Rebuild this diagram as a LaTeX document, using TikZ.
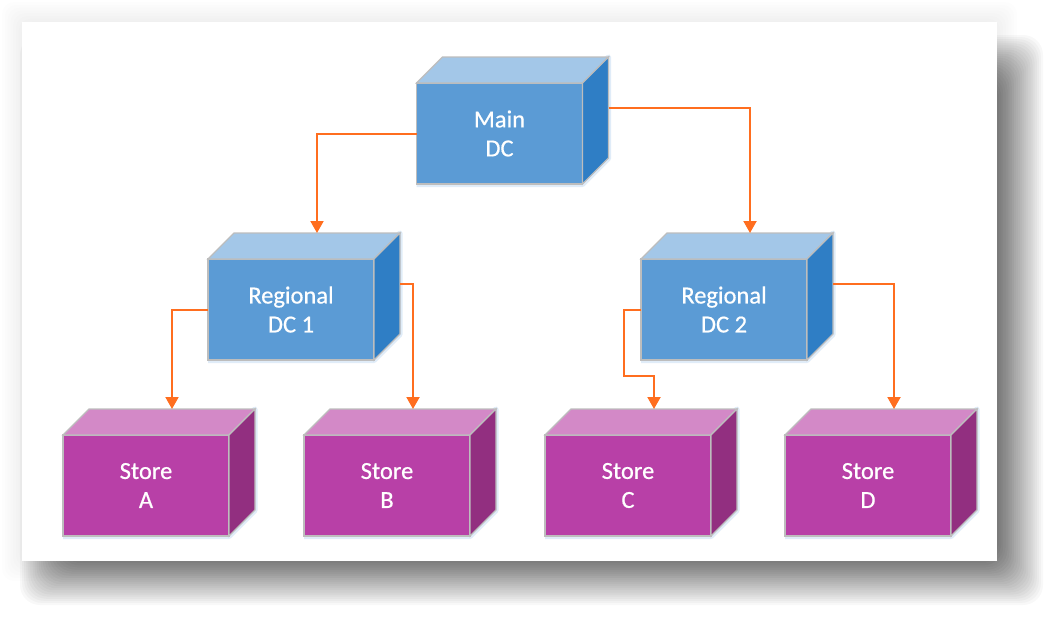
\documentclass[tikz,border=0pt]{standalone}
\usepackage{fontspec}
\setmainfont{Carlito}
\newfontfamily\labelfont{Carlito}[FakeBold=0.6]
\usetikzlibrary{arrows.meta,calc}
\definecolor{bfront}{HTML}{5B9BD5}
\definecolor{btop}{HTML}{A3C7E8}
\definecolor{bside}{HTML}{2F7EC5}
\definecolor{pfront}{HTML}{B840A7}
\definecolor{ptop}{HTML}{D389C7}
\definecolor{pside}{HTML}{922F80}
\definecolor{edgegray}{HTML}{BDBDBD}
\definecolor{glowblue}{HTML}{D3E5F6}
\definecolor{linkorange}{HTML}{FF6E1F}
\tikzset{
  face/.style={draw=edgegray, line width=1.2pt, line join=miter},
  glow/.style={draw=glowblue, line width=5pt, line join=round, opacity=0.7},
  frontface/.style={face, rectangle, minimum width=166pt, minimum height=101pt,
    inner sep=0pt, outer sep=0pt, text=white, align=center,
    font=\labelfont\fontsize{24.5}{29}\selectfont},
  link/.style={draw=linkorange, line width=2pt, -{Triangle[width=13pt,length=12pt]}},
}
\newcommand\boxcube[7]{%
  \draw[glow] ({#2-83},{#3+51}) -- ({#2+83},{#3+51}) -- ({#2+109},{#3+25}) -- ({#2+109},{#3-76.5}) -- ({#2+83},{#3-50.5});
  \node[frontface, fill=#5] (#1) at (#2,#3) {#4};
  \filldraw[face, fill=#6] (#1.north west) -- ++(26,-26) -- ([shift={(26,-26)}]#1.north east) -- (#1.north east) -- cycle;
  \filldraw[face, fill=#7] (#1.north east) -- ++(26,-26) -- ([shift={(26,-26)}]#1.south east) -- (#1.south east) -- cycle;
}
\begin{document}
\begin{tikzpicture}[x=1pt,y=-1pt]
\useasboundingbox (0,0) rectangle (1052,616);
\fill[white] (0,0) rectangle (1052,616);
% soft halo
\foreach \k in {0,...,9} {
  \pgfmathsetmacro\e{-5+\k*25/9}
  \fill[black, opacity=0.008, rounded corners=12pt] ({22-(\e)},{22-(\e)}) rectangle ({997+(\e)},{561+(\e)});
}
% main shadow
\foreach \k in {0,...,24} {
  \pgfmathsetmacro\e{-25+\k*50/24}
  \fill[black, opacity=0.027, rounded corners=20pt] ({45-(\e)},{60-(\e)}) rectangle ({1018+(\e)},{580+(\e)});
}
\fill[white] (22,22) rectangle (997,561);

\boxcube{M}{499.5}{133.5}{Main\\DC}{bfront}{btop}{bside}
\boxcube{R1}{291}{309.5}{Regional\\DC 1}{bfront}{btop}{bside}
\boxcube{R2}{724}{309.5}{Regional\\DC 2}{bfront}{btop}{bside}
\boxcube{SA}{146}{485.5}{Store\\A}{pfront}{ptop}{pside}
\boxcube{SB}{387}{485.5}{Store\\B}{pfront}{ptop}{pside}
\boxcube{SC}{628}{485.5}{Store\\C}{pfront}{ptop}{pside}
\boxcube{SD}{868}{485.5}{Store\\D}{pfront}{ptop}{pside}

\draw[link] (M.west) -| ([shift={(26,-26)}]R1.north);
\draw[link] ([shift={(26,-26)}]M.east) -| ([shift={(26,-26)}]R2.north);
\draw[link] (R1.west) -| ([shift={(26,-26)}]SA.north);
\draw[link] ([shift={(26,-26)}]R1.east) -| ([shift={(26,-26)}]SB.north);
\draw[link] (R2.west) -- ++(-17,0) -- ++(0,66.5) -| ([shift={(26,-26)}]SC.north);
\draw[link] ([shift={(26,-26)}]R2.east) -| ([shift={(26,-26)}]SD.north);
\end{tikzpicture}
\end{document}
